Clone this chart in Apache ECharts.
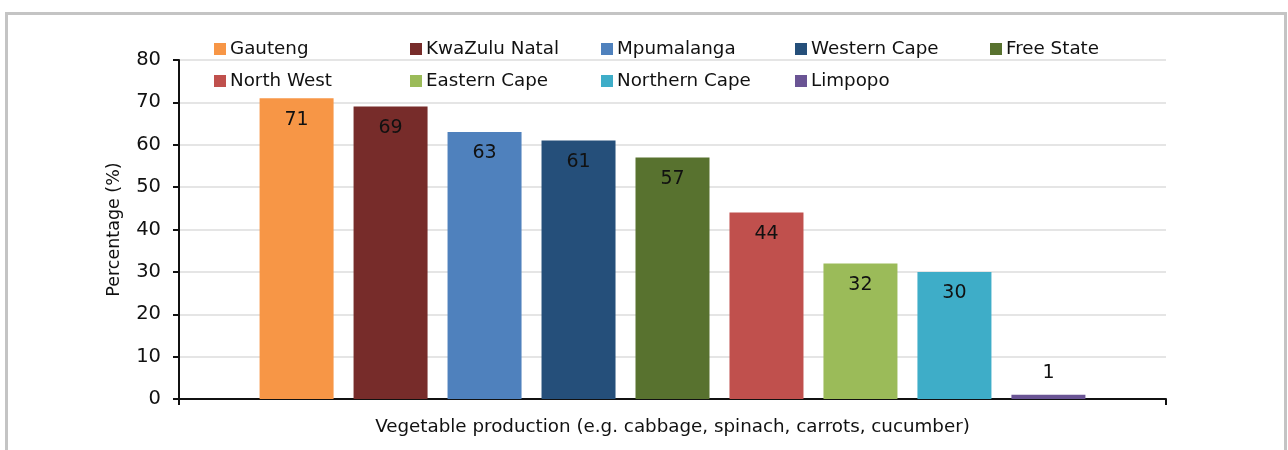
<!DOCTYPE html>
<html>
<head>
<meta charset="utf-8">
<script src="https://cdn.jsdelivr.net/npm/echarts@6/dist/echarts.min.js"></script>
<style>
  html, body { margin: 0; padding: 0; background: #fff; }
  .frame {
    position: absolute;
    left: 5px;
    top: 12px;
    width: 1282px;
    height: 450px;
    border: 3px solid #c4c4c4;
    border-bottom: none;
    box-sizing: border-box;
  }
  #chart { position: absolute; left: 0; top: 0; width: 1288px; height: 450px; }
</style>
</head>
<body>
<div class="frame"></div>
<div id="chart"></div>
<script>
// provinces and their share (%) for vegetable production
const provinces = ['Gauteng', 'KwaZulu Natal', 'Mpumalanga', 'Western Cape', 'Free State',
  'North West', 'Eastern Cape', 'Northern Cape', 'Limpopo']
const values = [71, 69, 63, 61, 57, 44, 32, 30, 1]
const colors = ['#F79646', '#772C2A', '#4F81BD', '#254F7A', '#58722F',
  '#C0504D', '#9BBB59', '#3EADC8', '#6A5494']
const category = ['Vegetable production (e.g. cabbage, spinach, carrots, cucumber)']
const yTicks = [0, 10, 20, 30, 40, 50, 60, 70, 80]

const font = 'DejaVu Sans, Liberation Sans, sans-serif'
const chart = echarts.init(document.getElementById('chart'))

// legend laid out in 5 fixed columns, two rows
const legendCols = [214, 410, 601, 795, 990]
const legends = provinces.map((name, i) => ({
  data: [name],
  left: legendCols[i % 5],
  top: i < 5 ? 40 : 72,
  itemWidth: 12,
  itemHeight: 12,
  itemGap: 0,
  padding: 0,
  icon: 'rect',
  selectedMode: false,
  textStyle: { fontFamily: font, fontSize: 18.3, color: '#111', padding: [0, 0, 0, -1] }
}))

const series = provinces.map((name, i) => ({
  name: name,
  type: 'bar',
  data: [values[i]],
  barWidth: 74,
  barGap: '27%',
  itemStyle: { color: colors[i] },
  label: {
    show: true,
    position: values[i] < 5 ? 'top' : 'insideTop',
    distance: values[i] < 5 ? 12 : 12,
    fontFamily: font,
    fontSize: 19,
    color: '#111'
  }
}))

const option = {
  animation: false,
  legend: legends,
  grid: { left: 179, right: 122, top: 60, bottom: 51 },
  xAxis: {
    type: 'category',
    data: category,
    axisLine: { lineStyle: { color: '#111', width: 2 } },
    axisTick: { show: true, length: 6, lineStyle: { color: '#111', width: 2 } },
    axisLabel: { fontFamily: font, fontSize: 18.3, color: '#111', margin: 19 }
  },
  yAxis: {
    type: 'value',
    min: yTicks[0],
    max: yTicks[yTicks.length - 1],
    interval: 10,
    name: 'Percentage (%)',
    nameLocation: 'middle',
    nameGap: 56,
    nameTextStyle: { fontFamily: font, fontSize: 17.5, color: '#111' },
    axisLine: { show: true, lineStyle: { color: '#111', width: 2 } },
    axisTick: { show: true, length: 6, lineStyle: { color: '#111', width: 2 } },
    axisLabel: { fontFamily: font, fontSize: 19.5, color: '#111', margin: 18 },
    splitLine: { lineStyle: { color: '#dcdcdc', width: 1.5 } }
  },
  series: series
}

chart.setOption(option)
</script>
</body>
</html>
